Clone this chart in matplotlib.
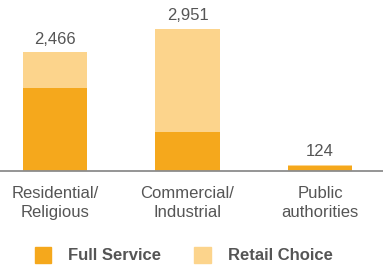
import matplotlib
matplotlib.use("Agg")
import matplotlib.pyplot as plt
from matplotlib.patches import Patch
import numpy as np

categories = ["Residential/\nReligious", "Commercial/\nIndustrial", "Public\nauthorities"]
full_service = [1725, 810, 95]
retail_choice = [741, 2141, 29]
totals = ["2,466", "2,951", "124"]

FULL = "#F5A81C"
RETAIL = "#FCD48C"
TEXT = "#555555"

plt.rcParams["font.family"] = ["Liberation Sans", "DejaVu Sans"]

fig = plt.figure(figsize=(3.83, 2.69), dpi=100)
ax = fig.add_axes([0, (269 - 171) / 269, 1, 171 / 269])

x = np.arange(len(categories))
w = 0.485
ax.bar(x, full_service, w, color=FULL, linewidth=0)
ax.bar(x, retail_choice, w, bottom=full_service, color=RETAIL, linewidth=0)

tot = np.array(full_service) + np.array(retail_choice)
for xi, t, lab in zip(x, tot, totals):
    ax.annotate(lab, (xi, t), xytext=(0, 4), textcoords="offset points",
                ha="center", va="bottom", fontsize=12, color=TEXT)

ax.set_xlim(-0.415, 2.475)
ax.set_ylim(0, 2951 * 171 / 142)
for s in ["top", "right", "left"]:
    ax.spines[s].set_visible(False)
ax.spines["bottom"].set_color("#8c8c8c")
ax.spines["bottom"].set_linewidth(1.3)
ax.set_yticks([])
ax.set_xticks(x)
ax.set_xticklabels(categories, fontsize=12, color=TEXT, linespacing=1.3)
ax.tick_params(axis="x", length=0, pad=11)

handles = [Patch(color=FULL, label="Full Service"),
           Patch(color=RETAIL, label="Retail Choice")]
fig.legend(handles=handles, loc="center", bbox_to_anchor=(0.479, 0.052), ncol=2,
           frameon=False, handlelength=1.0, handleheight=1.1, handletextpad=1.0,
           columnspacing=2.0, prop={"weight": "bold", "size": 12},
           labelcolor=TEXT)

fig.savefig("out.png", dpi=100)
